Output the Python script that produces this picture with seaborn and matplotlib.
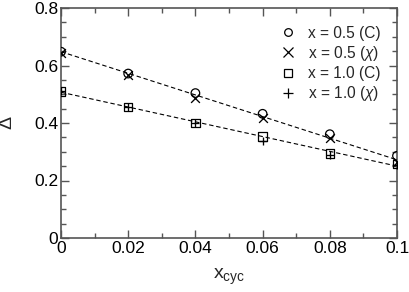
import matplotlib
matplotlib.use("Agg")
import matplotlib.pyplot as plt
from matplotlib.ticker import MultipleLocator
from matplotlib.lines import Line2D
import seaborn as sns
import pandas as pd

x_cyc = [0.0, 0.02, 0.04, 0.06, 0.08, 0.10]
d05_C = [0.648, 0.572, 0.504, 0.432, 0.361, 0.286]
d05_chi = [0.645, 0.568, 0.487, 0.416, 0.347, 0.263]
d10_C = [0.510, 0.455, 0.400, 0.353, 0.294, 0.258]
d10_chi = [0.510, 0.455, 0.400, 0.338, 0.288, 0.255]

fit_x = [0.0, 0.10]
fit_05 = [0.648, 0.272]
fit_10 = [0.507, 0.250]

labels = ["x = 0.5 (C)", "x = 0.5 ($\\chi$)", "x = 1.0 (C)", "x = 1.0 ($\\chi$)"]
markers = ["o", "x", "s", "+"]

sns.set_style("ticks")
plt.rcParams["font.family"] = ["Liberation Sans", "DejaVu Sans"]
plt.rcParams["mathtext.fontset"] = "custom"
plt.rcParams["mathtext.rm"] = "Liberation Sans"
plt.rcParams["mathtext.it"] = "Liberation Sans:italic"

fig = plt.figure(figsize=(4.09, 2.92), dpi=100)
ax = fig.add_axes([61 / 409, 1 - 238 / 292, 336 / 409, 230 / 292])

fit_df = pd.DataFrame({"x": fit_x + fit_x,
                       "y": fit_05 + fit_10,
                       "g": ["a"] * 2 + ["b"] * 2})
for g in ["a", "b"]:
    sub = fit_df[fit_df.g == g]
    sns.lineplot(data=sub, x="x", y="y", ax=ax, color="black", lw=0.8,
                 linestyle=(0, (4, 2.5)), legend=False)

series = [d05_C, d05_chi, d10_C, d10_chi]
handles = []
for vals, lab, m in zip(series, labels, markers):
    df = pd.DataFrame({"x": x_cyc, "y": vals})
    if m in ("o", "s"):
        sns.scatterplot(data=df, x="x", y="y", ax=ax, marker=m, s=38,
                        facecolor="none", edgecolor="black", linewidth=0.9,
                        legend=False, zorder=3)
        handles.append(Line2D([], [], marker=m, ls="none", mfc="none", mec="black",
                              ms=5.5, mew=0.9, label=lab))
    else:
        sns.scatterplot(data=df, x="x", y="y", ax=ax, marker=m, s=40,
                        color="black", linewidth=0.95, legend=False, zorder=3)
        handles.append(Line2D([], [], marker=m, ls="none", color="black",
                              ms=6.5, mew=0.9, label=lab))

ax.set_xlim(0, 0.1)
ax.set_ylim(0, 0.8)
ax.xaxis.set_major_locator(MultipleLocator(0.02))
ax.xaxis.set_minor_locator(MultipleLocator(0.01))
ax.yaxis.set_major_locator(MultipleLocator(0.2))
ax.yaxis.set_minor_locator(MultipleLocator(0.05))
ax.set_xticks([0, 0.02, 0.04, 0.06, 0.08, 0.1])
ax.set_xticklabels(["0", "0.02", "0.04", "0.06", "0.08", "0.1"])
ax.set_yticks([0, 0.2, 0.4, 0.6, 0.8])
ax.set_yticklabels(["0", "0.2", "0.4", "0.6", "0.8"])

spine_c = "#555555"
for s in ax.spines.values():
    s.set_visible(True)
    s.set_color(spine_c)
    s.set_linewidth(1.2)
ax.tick_params(which="both", direction="in", top=True, right=True, colors=spine_c,
               labelcolor="black", labelsize=12.5, width=1.0)
ax.tick_params(which="major", length=6, pad=2)
ax.tick_params(which="minor", length=3.5)

ax.set_xlabel("x$_{\\mathrm{cyc}}$", fontsize=14, labelpad=8)
ax.set_ylabel("$\\Delta$", fontsize=14, labelpad=13)

ax.legend(handles=handles, loc="upper right", frameon=False, fontsize=11.2,
          handletextpad=0.8, labelspacing=0.2, borderaxespad=0.0,
          handlelength=1.0, bbox_to_anchor=(0.97, 0.95))

fig.savefig("out.png", dpi=100)
